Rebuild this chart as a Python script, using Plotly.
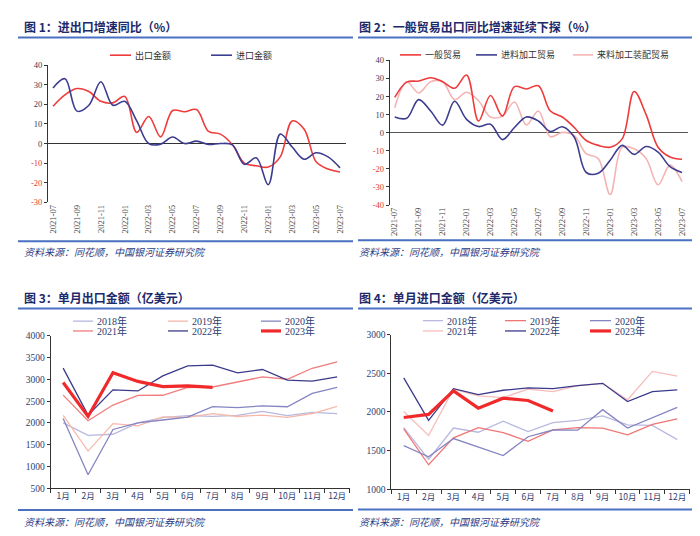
import plotly.graph_objects as go

# ---------------- data ----------------
months = ["2021-07", "2021-08", "2021-09", "2021-10", "2021-11", "2021-12",
          "2022-01", "2022-02", "2022-03", "2022-04", "2022-05", "2022-06",
          "2022-07", "2022-08", "2022-09", "2022-10", "2022-11", "2022-12",
          "2023-01", "2023-02", "2023-03", "2023-04", "2023-05", "2023-06", "2023-07"]

export_growth = [19.0, 24.8, 28.0, 26.5, 21.5, 20.7, 24.0, 5.7, 13.8, 3.4, 16.8, 16.2,
                 17.3, 6.2, 4.8, -0.6, -10.0, -11.3, -12.0, -6.8, 11.5, 7.3, -9.3, -13.0, -14.5]
import_growth = [28.3, 33.0, 16.5, 19.5, 31.5, 19.5, 21.5, 11.5, 0.0, -0.3, 3.3, 0.0,
                 1.2, -0.5, 0.0, -0.7, -10.6, -7.3, -21.0, 4.8, -1.8, -8.0, -4.7, -6.8, -12.4]

general_trade = [19.5, 28.0, 28.6, 30.4, 28.2, 24.6, 31.9, 6.5, 20.6, 9.2, 25.5, 24.2,
                 26.0, 12.0, 8.7, 2.9, -4.3, -7.0, -8.0, -3.4, 22.8, 10.0, -8.0, -13.4, -14.7]
processing_imported = [8.7, 8.0, 18.3, 12.0, 4.2, 17.4, 7.4, 3.4, 4.7, -3.8, 2.9, 8.7,
                       6.5, 0.7, 3.3, -2.5, -22.0, -22.4, -15.2, -7.0, -12.0, -7.6, -10.7, -18.8, -22.0]
processing_assembly = [13.8, 28.2, 22.0, 28.2, 28.2, 18.3, 22.4, 17.7, 8.7, 9.2, 17.0, 4.3,
                       12.0, -2.2, 0.2, -1.6, -11.6, -14.3, -34.2, -8.0, -8.9, -14.3, -28.8, -17.9, -27.0]

month_cats = ["1月", "2月", "3月", "4月", "5月", "6月", "7月", "8月", "9月", "10月", "11月", "12月"]
years = ["2018年", "2019年", "2020年", "2021年", "2022年", "2023年"]

exports_2018 = [2001, 1713, 1740, 2000, 2122, 2167, 2153, 2172, 2267, 2170, 2244, 2212]
exports_2019 = [2175, 1354, 1986, 1934, 2138, 2128, 2215, 2148, 2181, 2129, 2217, 2381]
exports_2020 = [2100, 810, 1851, 2004, 2068, 2136, 2376, 2352, 2393, 2372, 2680, 2819]
exports_2021 = [2640, 2050, 2411, 2634, 2636, 2814, 2826, 2943, 3057, 3003, 3256, 3405]
exports_2022 = [3260, 2180, 2759, 2735, 3082, 3311, 3330, 3149, 3227, 2984, 2961, 3060]
exports_2023 = [2930, 2150, 3155, 2954, 2835, 2853, 2817]

imports_2018 = [1797, 1385, 1791, 1737, 1880, 1746, 1862, 1891, 1949, 1832, 1825, 1642]
imports_2019 = [1780, 1316, 1665, 1797, 1733, 1620, 1768, 1796, 1791, 1704, 1838, 1911]
imports_2020 = [1565, 1420, 1655, 1546, 1436, 1679, 1766, 1764, 2029, 1791, 1925, 2060]
imports_2021 = [2005, 1695, 2295, 2207, 2184, 2296, 2263, 2340, 2370, 2157, 2524, 2463]
imports_2022 = [2441, 1890, 2300, 2225, 2280, 2310, 2300, 2340, 2370, 2133, 2262, 2286]
imports_2023 = [1928, 1968, 2272, 2049, 2177, 2148, 2011]

titles = ["图 1：进出口增速同比（%）",
          "图 2：一般贸易出口同比增速延续下探（%）",
          "图 3：单月出口金额（亿美元）",
          "图 4：单月进口金额（亿美元）"]
source_text = "资料来源：同花顺，中国银河证券研究院"

# ---------------- styling ----------------
W, H = 700, 536
def px(x):
    return x / W
def py(y):
    return 1 - y / H

RED = "#ee3b3b"
NAVY = "#3d3d8f"
PINK = "#f5b4b4"
TITLE_COLOR = "#1c2a6b"
RULE_COLOR = "#4a70c2"
SRC_COLOR = "#2d3c86"
NEG_COLOR = "#e53935"
AXIS_COLOR = "#333333"
SERIF = "Liberation Serif, Noto Sans CJK SC"
CJK = "Noto Sans CJK SC, Liberation Serif"

exp_colors = ["#b8b8e0", "#f6b9a9", "#8585c2", "#f07c7c", "#3a3a8c", "#f02a2a"]
imp_colors = ["#b8b8e0", "#f07676", "#8585c2", "#f7bcbc", "#3a3a8c", "#f02a2a"]

fig = go.Figure()

# Panel 1
fig.add_trace(go.Scatter(x=months, y=export_growth, mode="lines", name="出口金额",
                         line=dict(color=RED, width=1.6, shape="spline"), xaxis="x", yaxis="y"))
fig.add_trace(go.Scatter(x=months, y=import_growth, mode="lines", name="进口金额",
                         line=dict(color=NAVY, width=1.6, shape="spline"), xaxis="x", yaxis="y"))
# Panel 2
fig.add_trace(go.Scatter(x=months, y=processing_assembly, mode="lines", name="来料加工装配贸易",
                         line=dict(color=PINK, width=1.6, shape="spline"), xaxis="x2", yaxis="y2"))
fig.add_trace(go.Scatter(x=months, y=processing_imported, mode="lines", name="进料加工贸易",
                         line=dict(color=NAVY, width=1.6, shape="spline"), xaxis="x2", yaxis="y2"))
fig.add_trace(go.Scatter(x=months, y=general_trade, mode="lines", name="一般贸易",
                         line=dict(color=RED, width=1.6, shape="spline"), xaxis="x2", yaxis="y2"))

# Panel 3 / 4
exp_series = [exports_2018, exports_2019, exports_2020, exports_2021, exports_2022, exports_2023]
imp_series = [imports_2018, imports_2019, imports_2020, imports_2021, imports_2022, imports_2023]
for i, (yr, vals) in enumerate(zip(years, exp_series)):
    fig.add_trace(go.Scatter(x=month_cats[:len(vals)], y=vals, mode="lines", name=yr,
                             line=dict(color=exp_colors[i], width=3.2 if i == 5 else 1.3),
                             xaxis="x3", yaxis="y3"))
for i, (yr, vals) in enumerate(zip(years, imp_series)):
    fig.add_trace(go.Scatter(x=month_cats[:len(vals)], y=vals, mode="lines", name=yr,
                             line=dict(color=imp_colors[i], width=3.2 if i == 5 else 1.3),
                             xaxis="x4", yaxis="y4"))

def neg_ticks(vals):
    out = []
    for v in vals:
        if v < 0:
            out.append('<span style="color:%s">%d</span>' % (NEG_COLOR, v))
        else:
            out.append(str(v))
    return out

yt1 = list(range(-30, 41, 10))
yt2 = list(range(-40, 41, 10))

xcommon = dict(type="category", showgrid=False, zeroline=False, fixedrange=True)
fig.update_layout(
    width=W, height=H, autosize=False,
    margin=dict(l=0, r=0, t=0, b=0),
    paper_bgcolor="white", plot_bgcolor="white",
    showlegend=False,
    xaxis=dict(**xcommon, domain=[px(40), px(338)], anchor="y", range=[-0.42, 24.5],
               tickvals=months[::2], tickangle=-90, showline=False, ticks="",
               tickfont=dict(family=SERIF, size=8.5, color="#404040")),
    yaxis=dict(domain=[py(193), py(53)], anchor="x", range=[-30, 40], tickvals=yt1,
               ticktext=neg_ticks(yt1), showgrid=False, showline=True, linecolor=AXIS_COLOR,
               linewidth=1, ticks="outside", ticklen=3, tickcolor=AXIS_COLOR,
               zeroline=True, zerolinecolor=AXIS_COLOR, zerolinewidth=1,
               tickfont=dict(family=SERIF, size=8.5, color="#3a3a5a")),
    xaxis2=dict(**xcommon, domain=[px(381.7), px(680)], anchor="y2", range=[-0.42, 24.5],
                tickvals=months[::2], tickangle=-90, showline=False, ticks="",
                tickfont=dict(family=SERIF, size=8.5, color="#404040")),
    yaxis2=dict(domain=[py(195.7), py(48.3)], anchor="x2", range=[-40, 40], tickvals=yt2,
                ticktext=neg_ticks(yt2), showgrid=False, showline=True, linecolor=AXIS_COLOR,
                linewidth=1, ticks="outside", ticklen=3, tickcolor=AXIS_COLOR,
                zeroline=True, zerolinecolor="#555555", zerolinewidth=1.2,
                tickfont=dict(family=SERIF, size=8.5, color="#3a3a5a")),
    xaxis3=dict(**xcommon, domain=[px(42.7), px(341.6)], anchor="y3", range=[-0.5, 11.5],
                categoryorder="array", categoryarray=month_cats, tickangle=0,
                showline=True, linecolor=AXIS_COLOR, linewidth=1, ticks="outside",
                tickson="boundaries", ticklen=4, tickcolor=AXIS_COLOR,
                tickfont=dict(family=CJK, size=8.5, color="#2d3c6e")),
    yaxis3=dict(domain=[py(484.3), py(329)], anchor="x3", range=[500, 4000], dtick=500,
                showgrid=False, zeroline=False, showline=True, linecolor=AXIS_COLOR, linewidth=1,
                ticks="outside", ticklen=3, tickcolor=AXIS_COLOR,
                tickfont=dict(family=SERIF, size=9.5, color="#2d3c6e")),
    xaxis4=dict(**xcommon, domain=[px(383.3), px(681.7)], anchor="y4", range=[-0.5, 11.5],
                categoryorder="array", categoryarray=month_cats, tickangle=0,
                showline=True, linecolor=AXIS_COLOR, linewidth=1, ticks="outside",
                tickson="boundaries", ticklen=4, tickcolor=AXIS_COLOR,
                tickfont=dict(family=CJK, size=8.5, color="#2d3c6e")),
    yaxis4=dict(domain=[py(485.3), py(327.7)], anchor="x4", range=[1000, 3000], dtick=500,
                showgrid=False, zeroline=False, showline=True, linecolor=AXIS_COLOR, linewidth=1,
                ticks="outside", ticklen=3, tickcolor=AXIS_COLOR,
                tickfont=dict(family=SERIF, size=9.5, color="#2d3c6e")),
)

shapes = []
annotations = []

def rule(x0, x1, y):
    shapes.append(dict(type="line", xref="paper", yref="paper", x0=px(x0), x1=px(x1),
                       y0=py(y), y1=py(y), line=dict(color=RULE_COLOR, width=2)))

def text(x, y, s, size, color, family=CJK, bold=False, italic=False):
    if bold:
        s = "<b>" + s + "</b>"
    if italic:
        s = "<i>" + s + "</i>"
    annotations.append(dict(x=px(x), y=py(y), xref="paper", yref="paper", text=s,
                            showarrow=False, xanchor="left", yanchor="middle",
                            font=dict(family=family, size=size, color=color)))

def legend_item(x0, x1, y, color, width, label, size, family, color_text="#333333"):
    shapes.append(dict(type="line", xref="paper", yref="paper", x0=px(x0), x1=px(x1),
                       y0=py(y), y1=py(y), line=dict(color=color, width=width)))
    text(x1 + 2, y, label, size, color_text, family)

# titles and rules
text(14, 14, titles[0], 12, TITLE_COLOR, bold=True)
text(349, 14, titles[1], 12, TITLE_COLOR, bold=True)
text(14, 290, titles[2], 12, TITLE_COLOR, bold=True)
text(349, 290, titles[3], 12, TITLE_COLOR, bold=True)
rule(10, 345, 25)
rule(350, 693, 25)
rule(10, 345, 301)
rule(350, 693, 301)
rule(10, 345, 232.5)
rule(350, 693, 231.5)
rule(10, 345, 506.5)
rule(350, 693, 506)

# sources
for (x, y) in [(14, 243), (349, 243), (14, 518), (349, 518)]:
    text(x, y, source_text, 10, SRC_COLOR, italic=True)

# legends panel 1
legend_item(102, 123, 43, RED, 1.6, "出口金额", 9, CJK)
legend_item(203, 224, 43, NAVY, 1.6, "进口金额", 9, CJK)
# legends panel 2
legend_item(392, 413, 42.7, RED, 1.6, "一般贸易", 9, CJK)
legend_item(468, 489, 42.7, NAVY, 1.6, "进料加工贸易", 9, CJK)
legend_item(565, 585, 42.7, PINK, 1.6, "来料加工装配贸易", 9, CJK)

# legends panel 3
cols3 = [(65, 85), (160, 180), (253, 273)]
rows3 = [314, 324]
for i, yr in enumerate(years):
    c = cols3[i % 3]
    r = rows3[i // 3]
    legend_item(c[0], c[1], r, exp_colors[i], 3.2 if i == 5 else 1.3, yr, 10, SERIF, "#2d3c6e")
# legends panel 4
cols4 = [(415, 435), (497, 518), (582, 603)]
rows4 = [313.5, 324]
for i, yr in enumerate(years):
    c = cols4[i % 3]
    r = rows4[i // 3]
    legend_item(c[0], c[1], r, imp_colors[i], 3.2 if i == 5 else 1.3, yr, 10, SERIF, "#2d3c6e")

fig.update_layout(shapes=shapes, annotations=annotations)
fig.write_html("out.html")
